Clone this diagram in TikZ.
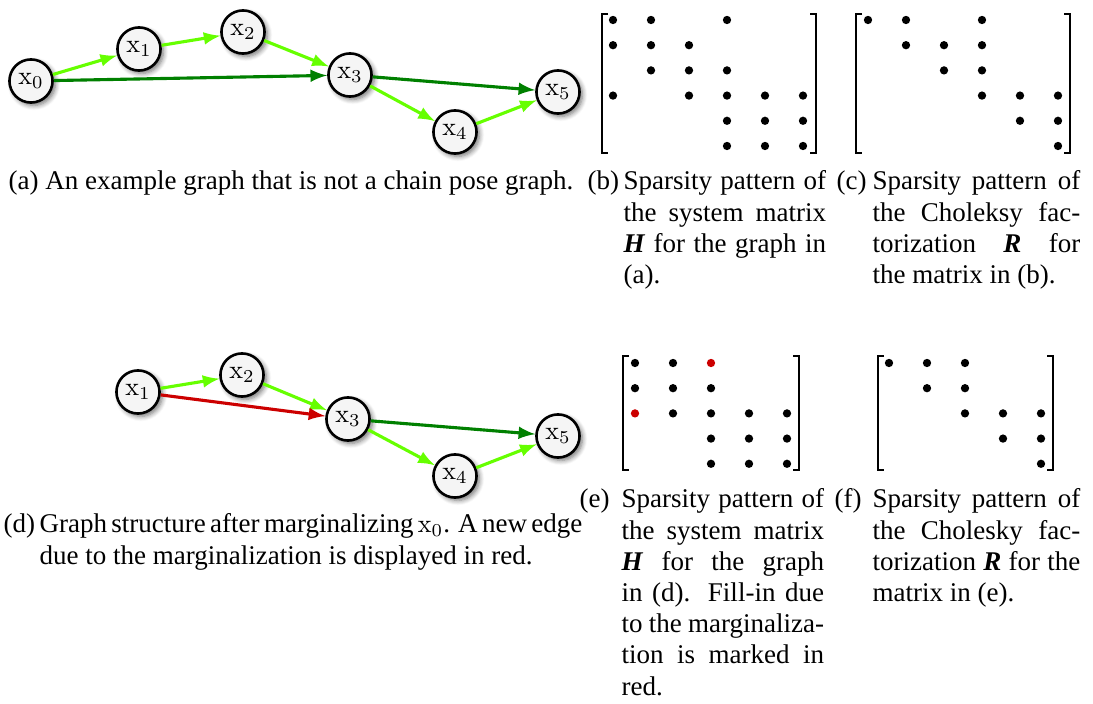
\documentclass[tikz,border=0pt]{standalone}
\usepackage[no-math]{fontspec}
\setmainfont{Liberation Serif}
\usepackage{xcolor}
\usetikzlibrary{arrows}
\usetikzlibrary{shadows.blur}
\usetikzlibrary{math}

\colorlet{lgreen}{green!60!yellow}
\colorlet{dgreen}{green!50!black}
\colorlet{fillred}{red!80!black}

\newcommand\capfont{\fontsize{10.4}{12}\selectfont\spaceskip=0.25em plus 0.15em minus 0.09em\relax}

\tikzset{
  pose/.style={circle, draw=black, line width=1pt, fill=gray!8, minimum size=16.6pt, inner sep=0pt,
    blur shadow={shadow xshift=1.1pt, shadow yshift=-1.1pt, shadow blur steps=6, shadow opacity=55}},
  odom/.style={-latex, line width=1.2pt, draw=lgreen},
  closure/.style={-latex, line width=1.2pt, draw=dgreen},
  newedge/.style={-latex, line width=1.2pt, draw=fillred},
  bracket/.style={line width=0.7pt},
  captext/.style={font=\capfont, inner sep=0pt},
  capbody/.style={captext, text width=#1, align=justify},
}

\begin{document}
\begin{tikzpicture}[x=0.385pt, y=-0.385pt]
\tikzmath{
\dx=38;
\dy=25.2;
\dotr=1.6;
}
\useasboundingbox (0,0) rectangle (1093,704);

% (a) the graph
\node[pose] (a0) at (31,81) {$\mathrm{x}_0$};
\node[pose] (a1) at (139,49) {$\mathrm{x}_1$};
\node[pose] (a2) at (243,32) {$\mathrm{x}_2$};
\node[pose] (a3) at (350,75) {$\mathrm{x}_3$};
\node[pose] (a4) at (455,132) {$\mathrm{x}_4$};
\node[pose] (a5) at (558,92) {$\mathrm{x}_5$};

\draw[odom] (a0) -- (a1);
\draw[odom] (a1) -- (a2);
\draw[odom] (a2) -- (a3);
\draw[closure] (a0) -- (a3);
\draw[closure] (a3) -- (a5);
\draw[odom] (a3) -- (a4);
\draw[odom] (a4) -- (a5);

% (b) H
\draw[bracket] (608,14) -- (602,14) -- (602,153) -- (608,153);
\draw[bracket] (810,14) -- (816,14) -- (816,153) -- (810,153);
\begin{scope}[shift={(613,20)}]
\foreach \row/\col in {1/1,1/2,1/4, 2/1,2/2,2/3, 3/2,3/3,3/4, 4/1,4/3,4/4,4/5,4/6, 5/4,5/5,5/6, 6/4,6/5,6/6}
  \fill ({(\col-1)*\dx},{(\row-1)*\dy}) circle (\dotr pt);
\end{scope}

% (c) R
\draw[bracket] (862,14) -- (856,14) -- (856,153) -- (862,153);
\draw[bracket] (1064,14) -- (1070,14) -- (1070,153) -- (1064,153);
\begin{scope}[shift={(868,20)}]
\foreach \row/\col in {1/1,1/2,1/4, 2/2,2/3,2/4, 3/3,3/4, 4/4,4/5,4/6, 5/5,5/6, 6/6}
  \fill ({(\col-1)*\dx},{(\row-1)*\dy}) circle (\dotr pt);
\end{scope}

% (d) after marginalizing x0
\node[pose] (d1) at (138,392) {$\mathrm{x}_1$};
\node[pose] (d2) at (242,375) {$\mathrm{x}_2$};
\node[pose] (d3) at (348,419) {$\mathrm{x}_3$};
\node[pose] (d4) at (455,476) {$\mathrm{x}_4$};
\node[pose] (d5) at (558,436) {$\mathrm{x}_5$};

\draw[odom] (d1) -- (d2);
\draw[odom] (d2) -- (d3);
\draw[newedge] (d1) -- (d3);
\draw[closure] (d3) -- (d5);
\draw[odom] (d3) -- (d4);
\draw[odom] (d4) -- (d5);

% (e) H with fill-in
\draw[bracket] (629,356) -- (623,356) -- (623,470) -- (629,470);
\draw[bracket] (793,356) -- (799,356) -- (799,470) -- (793,470);
\begin{scope}[shift={(635,363)}]
\foreach \row/\col in {1/1,1/2, 2/1,2/2,2/3, 3/2,3/3,3/4,3/5, 4/3,4/4,4/5, 5/3,5/4,5/5}
  \fill ({(\col-1)*\dx},{(\row-1)*\dy}) circle (\dotr pt);
\fill[fillred] ({2*\dx},0) circle (\dotr pt);
\fill[fillred] (0,{2*\dy}) circle (\dotr pt);
\end{scope}

% (f) R
\draw[bracket] (884,356) -- (878,356) -- (878,470) -- (884,470);
\draw[bracket] (1047,356) -- (1053,356) -- (1053,470) -- (1047,470);
\begin{scope}[shift={(889,363)}]
\foreach \row/\col in {1/1,1/2,1/3, 2/2,2/3, 3/3,3/4,3/5, 4/4,4/5, 5/5}
  \fill ({(\col-1)*\dx},{(\row-1)*\dy}) circle (\dotr pt);
\end{scope}

% captions
\node[captext, anchor=base west] (capa) at (8,190) {(a) An example graph that is not a chain pose graph.};
\node[captext, anchor=base west] (labb) at (587,190) {(b)};
\node[capbody=78pt, anchor=base west] (capb) at (623,190)
  {Sparsity pattern of\linebreak the system matrix\linebreak \textbf{\textit{H}} for the graph in\linebreak (a).};
\node[captext, anchor=base west] (labc) at (836,190) {(c)};
\node[capbody=80pt, anchor=base west] (capc) at (872,190)
  {Sparsity pattern of\linebreak the Choleksy fac-\linebreak torization \textbf{\textit{R}} for\linebreak the matrix in (b).};
\node[captext, anchor=base west] (labd) at (3,533) {(d)};
\node[capbody=209pt, anchor=base west] (capd) at (39,533)
  {Graph structure after marginalizing $\mathrm{x}_0$. A new edge\linebreak due to the marginalization is displayed in red.};
\node[captext, anchor=base west] (labe) at (579,508) {(e)};
\node[capbody=78pt, anchor=base west] (cape) at (621,508)
  {Sparsity pattern of\linebreak the system matrix\linebreak \textbf{\textit{H}} for the graph\linebreak in (d). Fill-in due\linebreak to the marginaliza-\linebreak tion is marked in\linebreak red.};
\node[captext, anchor=base west] (labf) at (834,508) {(f)};
\node[capbody=80pt, anchor=base west] (capf) at (872,508)
  {Sparsity pattern of\linebreak the Cholesky fac-\linebreak torization \textbf{\textit{R}} for the\linebreak matrix in (e).};
\end{tikzpicture}
\end{document}
